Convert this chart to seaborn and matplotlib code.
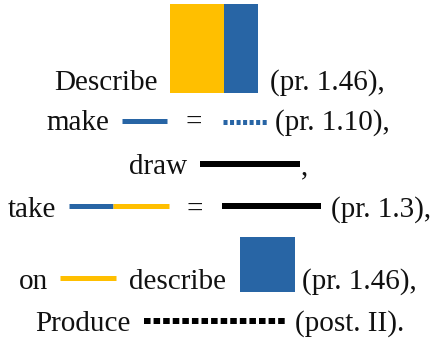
import seaborn as sns
from matplotlib import pyplot as plt
from matplotlib.patches import Rectangle

sns.set_theme(style='white')
plt.rcParams['font.family'] = ['Liberation Serif', 'DejaVu Serif']
plt.rcParams['lines.scale_dashes'] = False

yellow = '#FFBF00'
blue = '#2865A5'
black = '#000000'

# words of each row: (text, centre x)
row_words = [
    [('Describe', 106), ('(pr. 1.46),', 327)],
    [('make', 78), ('=', 194), ('(pr. 1.10),', 332)],
    [('draw', 158), (',', 305)],
    [('take', 32), ('=', 195), ('(pr. 1.3),', 381)],
    [('on', 33), ('describe', 178), ('(pr. 1.46),', 359)],
    [('Produce', 83), ('(post. II).', 350)],
]
row_baseline = [90, 130, 174, 217, 289, 331]

# line segments: (x0, x1, y, colour, width px, dash)
segments = [
    (122, 167, 120.5, blue, 5, None),
    (223, 267, 121.5, blue, 5, (2.9, 1.8)),
    (200, 300, 163.5, black, 6, None),
    (69, 113, 206, blue, 5, None),
    (113, 169, 206, yellow, 5, None),
    (222, 321, 206, black, 6, None),
    (60, 116, 278, yellow, 5, None),
    (144, 287, 320.5, black, 6, (4.7, 2.2)),
]

# filled blocks: (x0, y0, width, height, colour)
blocks = [
    (170, 4, 54, 89, yellow),
    (224, 4, 34, 89, blue),
    (240, 237, 55, 55, blue),
]

fig = plt.figure(figsize=(4.32, 3.40), dpi=100)
ax = fig.add_axes([0, 0, 1, 1])
ax.set_xlim(0, 432)
ax.set_ylim(340, 0)
ax.axis('off')

for words, base in zip(row_words, row_baseline):
    for txt, cx in words:
        ax.text(cx, base, txt, ha='center', va='baseline', fontsize=21, color='#111111')

for x0, x1, y, c, w, dash in segments:
    ls = '-' if dash is None else (0, dash)
    ax.plot([x0, x1], [y, y], color=c, lw=w * 0.72, linestyle=ls, solid_capstyle='butt', dash_capstyle='butt')

for x0, y0, w, h, c in blocks:
    ax.add_patch(Rectangle((x0, y0), w, h, facecolor=c, edgecolor='none'))

plt.savefig('out.png', dpi=100)
